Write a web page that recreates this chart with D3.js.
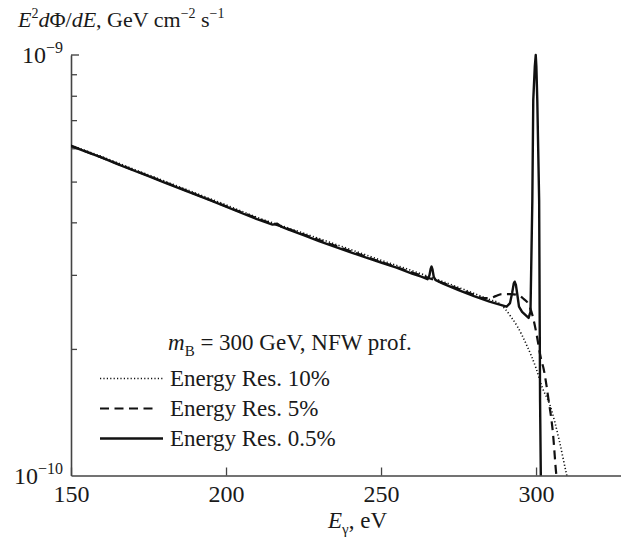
<!DOCTYPE html>
<html>
<head>
<meta charset="utf-8">
<script src="https://cdn.jsdelivr.net/npm/d3@7"></script>
<style>
  body { margin: 0; background: #fff; }
  svg text { font-family: "Liberation Serif", "Times New Roman", serif; fill: #1a1a1a; }
</style>
</head>
<body>
<div id="chart"></div>
<script>
// flux values are in units of 1e-10 GeV cm^-2 s^-1
var xTicks = [150, 200, 250, 300];
var yMinor = [2, 3, 4, 5, 6, 7, 8, 9];

// Energy Res. 0.5% (solid)
var resHalfE = [150, 155, 160, 165, 170, 175, 180, 185, 190, 195, 200, 205, 210, 215, 216.5, 218, 220, 225, 230, 235, 240, 245, 250, 255, 260, 263, 265, 265.6, 266.0, 266.3, 266.6, 267.0, 267.5, 270, 275, 280, 285, 290.5, 291.6, 292.3, 292.8, 293.1, 293.5, 294.0, 294.5, 295.5, 296.8, 297.6, 298.2, 298.8, 299.1, 299.6, 299.9, 300.1, 300.4, 301.0, 301.3, 301.55, 301.7];
var resHalfF = [6.08, 5.88, 5.70, 5.50, 5.32, 5.15, 4.98, 4.82, 4.66, 4.51, 4.36, 4.21, 4.07, 3.95, 3.97, 3.90, 3.85, 3.73, 3.61, 3.50, 3.40, 3.30, 3.21, 3.12, 3.02, 2.97, 2.93, 2.99, 3.10, 3.14, 3.09, 2.97, 2.92, 2.86, 2.76, 2.67, 2.59, 2.52, 2.57, 2.72, 2.86, 2.89, 2.84, 2.68, 2.52, 2.45, 2.40, 2.37, 2.45, 4.5, 7.8, 9.4, 10.0, 9.4, 7.8, 4.5, 1.5, 0.98, 0.8];

// Energy Res. 5% (dashed)
var res5E = [150, 160, 170, 180, 190, 200, 210, 220, 230, 240, 250, 260, 270, 280, 283, 285, 287, 289, 292, 294.5, 296, 297.5, 299, 300, 301.7, 302.4, 304, 305.5, 306.5, 307.2];
var res5F = [6.08, 5.70, 5.33, 4.99, 4.67, 4.37, 4.09, 3.86, 3.63, 3.42, 3.22, 3.04, 2.87, 2.69, 2.64, 2.64, 2.67, 2.70, 2.70, 2.68, 2.63, 2.56, 2.38, 2.20, 1.88, 1.80, 1.52, 1.25, 1.01, 0.92];

// Energy Res. 10% (dotted)
var res10E = [150, 160, 170, 180, 190, 200, 210, 220, 230, 240, 250, 260, 270, 280, 285, 288, 290, 292, 294, 297, 300, 302, 304.5, 307.5, 309.8, 311];
var res10F = [6.10, 5.73, 5.36, 5.02, 4.70, 4.40, 4.11, 3.88, 3.66, 3.45, 3.25, 3.07, 2.89, 2.71, 2.62, 2.57, 2.49, 2.38, 2.26, 2.04, 1.80, 1.62, 1.47, 1.21, 1.01, 0.93];

var legendLabels = ["Energy Res. 10%", "Energy Res. 5%", "Energy Res. 0.5%"];
var legendDash = ["1.2,2.2", "9,5.5", null];
var legendWidth = [1.6, 2.2, 2.6];

var width = 621, height = 540;
var x = d3.scaleLinear().domain([150, 327.4]).range([71, 621]);
var y = d3.scaleLog().domain([1e-10, 1e-9]).range([475.5, 55]);

var svg = d3.select("#chart").append("svg")
    .attr("width", width)
    .attr("height", height);

svg.append("defs").append("clipPath")
    .attr("id", "clip")
  .append("rect")
    .attr("x", 71)
    .attr("y", 40)
    .attr("width", 550)
    .attr("height", 475.5 - 40);

// *** axes ***
var xAxis = svg.append("g")
    .attr("transform", "translate(0," + 475.5 + ")")
    .call(d3.axisBottom(x).tickValues(xTicks).tickSize(-8).tickSizeOuter(0).tickPadding(9));
xAxis.selectAll("text").style("font-size", "24px").attr("fill", "#1a1a1a");

var yAxis = svg.append("g")
    .attr("transform", "translate(71,0)")
    .call(d3.axisLeft(y).tickValues(yMinor.map(function(d) { return d * 1e-10; }))
        .tickSize(-6).tickSizeOuter(0).tickFormat(""));
// top tick at 1e-9
yAxis.append("line")
    .attr("x1", 0).attr("x2", 8)
    .attr("y1", y(1e-9)).attr("y2", y(1e-9))
    .attr("stroke", "currentColor");

svg.selectAll(".domain").attr("stroke", "#444").attr("stroke-width", 1.6);
svg.selectAll(".tick line").attr("stroke", "#444").attr("stroke-width", 1.3);

// y labels with superscripts
[[1e-9, "−9"], [1e-10, "−10"]].forEach(function(d) {
    var t = svg.append("text")
        .attr("x", 63)
        .attr("y", y(d[0]) + 8)
        .attr("text-anchor", "end")
        .style("font-size", "24px");
    t.append("tspan").text("10");
    t.append("tspan").attr("dy", -10).style("font-size", "16px").text(d[1]);
});

// y title
var yt = svg.append("text").attr("x", 18).attr("y", 27).style("font-size", "22px");
yt.append("tspan").style("font-style", "italic").text("E");
yt.append("tspan").attr("dy", -9).style("font-size", "14px").text("2");
yt.append("tspan").attr("dy", 9).style("font-style", "italic").text("d");
yt.append("tspan").text("Φ/");
yt.append("tspan").style("font-style", "italic").text("dE");
yt.append("tspan").text(", GeV cm");
yt.append("tspan").attr("dy", -9).style("font-size", "14px").text("−2");
yt.append("tspan").attr("dy", 9).text(" s");
yt.append("tspan").attr("dy", -9).style("font-size", "14px").text("−1");

// x title
var xt = svg.append("text").attr("x", 328).attr("y", 528).style("font-size", "23px");
xt.append("tspan").style("font-style", "italic").text("E");
xt.append("tspan").attr("dy", 6).style("font-size", "15px").text("γ");
xt.append("tspan").attr("dy", -6).text(", eV");

// *** curves ***
var smooth = d3.line()
    .curve(d3.curveMonotoneX)
    .x(function(d) { return x(d[0]); })
    .y(function(d) { return y(d[1] * 1e-10); });
var sharp = d3.line()
    .x(function(d) { return x(d[0]); })
    .y(function(d) { return y(d[1] * 1e-10); });

var plot = svg.append("g").attr("clip-path", "url(#clip)");

function draw(E, F, dash, w, gen) {
    var pts = E.map(function(e, i) { return [e, F[i]]; });
    plot.append("path")
        .datum(pts)
        .attr("fill", "none")
        .attr("stroke", "#111")
        .attr("stroke-width", w)
        .attr("stroke-linejoin", "round")
        .attr("stroke-dasharray", dash)
        .attr("d", gen);
}

draw(res10E, res10F, "1.2,2.2", 1.6, smooth);
draw(res5E, res5F, "9,5.5", 2.2, smooth);
draw(resHalfE, resHalfF, null, 2.4, sharp);

// *** legend ***
var title = svg.append("text").attr("x", 168).attr("y", 350).style("font-size", "23px");
title.append("tspan").style("font-style", "italic").text("m");
title.append("tspan").attr("dy", 6).style("font-size", "15px").text("B");
title.append("tspan").attr("dy", -6).text(" = 300 GeV, NFW prof.");

legendLabels.forEach(function(lab, i) {
    var ly = 378.5 + i * 30;
    svg.append("line")
        .attr("x1", 100).attr("x2", i == 1 ? 157 : 163)
        .attr("y1", ly).attr("y2", ly)
        .attr("stroke", "#111")
        .attr("stroke-width", legendWidth[i])
        .attr("stroke-dasharray", legendDash[i]);
    svg.append("text")
        .attr("x", 170)
        .attr("y", ly + 7)
        .style("font-size", "23px")
        .text(lab);
});
</script>
</body>
</html>
